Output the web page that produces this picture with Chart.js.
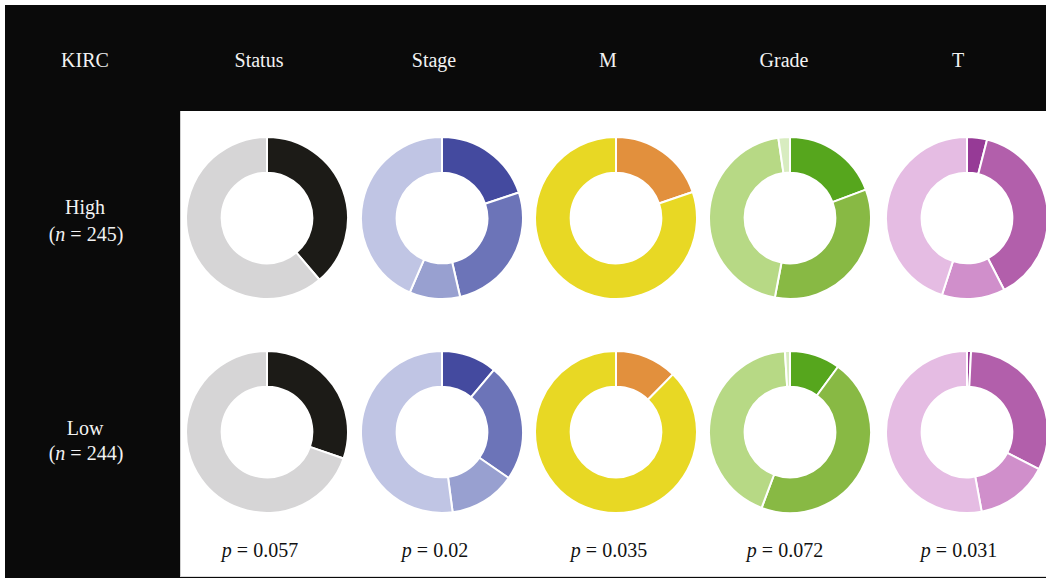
<!DOCTYPE html>
<html>
<head>
<meta charset="utf-8">
<script src="https://cdn.jsdelivr.net/npm/chart.js@4"></script>
<style>
  html, body { margin: 0; padding: 0; background: #fff; }
  body { width: 1046px; height: 578px; position: relative; overflow: hidden;
         font-family: "Liberation Serif", "DejaVu Serif", serif; }
  #frame { position: absolute; left: 5px; top: 5px; right: 0; bottom: 0; background: #0a0a0a; }
  #panel { position: absolute; left: 180px; top: 111px; width: 866px; height: 465px;
           background: #fff; border-left: 1px solid #cfcfcf; border-bottom: 1px solid #dcdcdc; }
  .lbl { position: absolute; color: #f2f2f2; font-size: 20px; transform: translate(-50%, -50%);
         white-space: nowrap; text-align: center; line-height: 26px; }
  .pv { position: absolute; color: #111; font-size: 20px; transform: translate(-50%, -50%); white-space: nowrap; }
  .box { position: absolute; width: 164px; height: 164px; }
</style>
</head>
<body>
<div id="frame"></div>
<div id="panel"></div>
<div id="labels"></div>
<div id="charts"></div>

<script>
// ---- datos (porcentaje de cada categoría) ----
const corner = 'KIRC';
const features = ['Status', 'Stage', 'M', 'Grade', 'T'];
const groups = ['High', 'Low'];
const groupN = [245, 244];
const pValues = ['0.057', '0.02', '0.035', '0.072', '0.031'];

const statusHigh = [38.8, 61.2];
const statusLow  = [30.3, 69.7];
const stageHigh  = [19.9, 26.5, 10.1, 43.5];
const stageLow   = [11.1, 23.5, 13.3, 52.1];
const mHigh      = [19.8, 80.2];
const mLow       = [12.4, 87.6];
const gradeHigh  = [19.3, 33.7, 44.7, 2.3];
const gradeLow   = [10.1, 45.6, 43.3, 1.0];
const tHigh      = [4.0, 38.4, 12.6, 45.0];
const tLow       = [0.8, 31.8, 14.5, 52.9];

// colores por variable
const palette = {
  Status: ['#1c1b17', '#d6d5d6'],
  Stage:  ['#444a9f', '#6c74b8', '#98a0d0', '#c0c5e4'],
  M:      ['#e2903d', '#e8d824'],
  Grade:  ['#56a61d', '#88b944', '#b7d985', '#d8ecc0'],
  T:      ['#963a96', '#b25fab', '#d08fcb', '#e5bce3']
};

const seriesByRow = [
  [statusHigh, stageHigh, mHigh, gradeHigh, tHigh],
  [statusLow, stageLow, mLow, gradeLow, tLow]
];

// posiciones de la maqueta
const colX = [267, 442, 616, 790, 967];
const headX = [259, 434, 608, 784, 958];
const rowY = [218, 432];
const groupY = [[207, 234], [428, 453]];

const labels = document.getElementById('labels');
function addText(cls, html, x, y) {
  const d = document.createElement('div');
  d.className = cls;
  d.innerHTML = html;
  d.style.left = x + 'px';
  d.style.top = y + 'px';
  labels.appendChild(d);
}

addText('lbl', corner, 85, 60);
features.forEach((f, i) => addText('lbl', f, headX[i], 60));
groups.forEach((g, r) => {
  addText('lbl', g, 85, groupY[r][0]);
  addText('lbl', '(<i>n</i> = ' + groupN[r] + ')', 86, groupY[r][1]);
});
pValues.forEach((p, i) => addText('pv', '<i>p</i> = ' + p, headX[i] + 1, 550));

const holder = document.getElementById('charts');
seriesByRow.forEach((row, r) => {
  row.forEach((vals, c) => {
    const box = document.createElement('div');
    box.className = 'box';
    box.style.left = (colX[c] - 82) + 'px';
    box.style.top = (rowY[r] - 82) + 'px';
    const cv = document.createElement('canvas');
    box.appendChild(cv);
    holder.appendChild(box);

    new Chart(cv.getContext('2d'), {
      type: 'doughnut',
      data: {
        labels: vals.map((_, k) => features[c] + ' ' + (k + 1)),
        datasets: [{
          data: vals,
          backgroundColor: palette[features[c]],
          borderColor: '#ffffff',
          borderWidth: 2,
          hoverOffset: 0
        }]
      },
      options: {
        responsive: true,
        maintainAspectRatio: false,
        animation: false,
        cutout: '56%',
        layout: { padding: 0 },
        plugins: { legend: { display: false }, tooltip: { enabled: false } }
      }
    });
  });
});
</script>
</body>
</html>
